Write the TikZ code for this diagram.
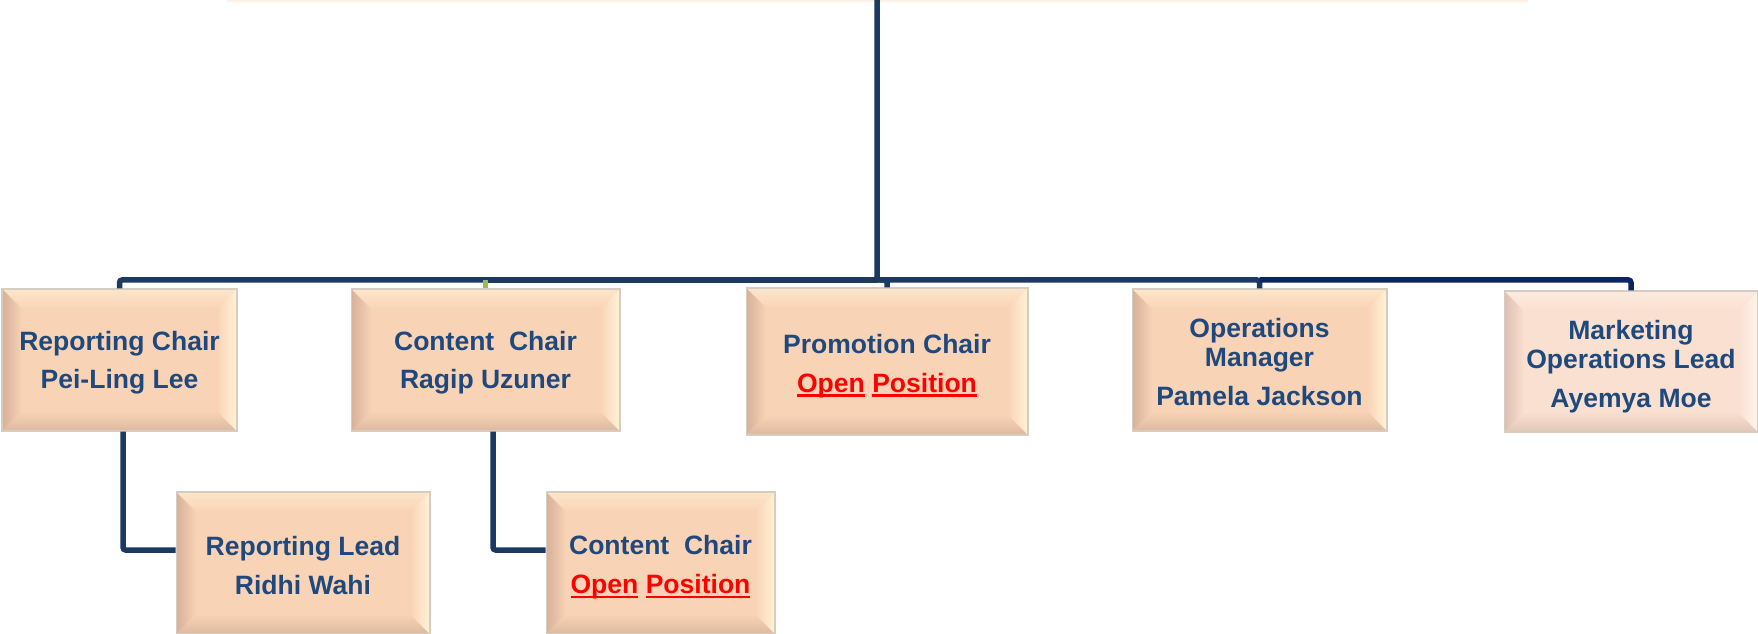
\documentclass[tikz,border=0pt]{standalone}
\usepackage{fontspec}
\setmainfont{Liberation Sans}
\usepackage{xcolor}
\usetikzlibrary{positioning,calc}

\definecolor{chartblue}{HTML}{1F497D}
\definecolor{linkblue}{HTML}{1C3961}
\definecolor{linknavy}{HTML}{0B2462}
\definecolor{linkgreen}{HTML}{9BBB59}
\definecolor{boxfill}{HTML}{F9D3B6}
\definecolor{bevtop}{HTML}{FDE6CA}
\definecolor{bevright}{HTML}{FFF3D6}
\definecolor{bevleft}{HTML}{D6B098}
\definecolor{bevbottom}{HTML}{DCBA9F}
\definecolor{boxedge}{HTML}{D5CCC2}
\definecolor{palefill}{HTML}{F9E0D1}
\definecolor{paletop}{HTML}{FCEBE0}
\definecolor{paleright}{HTML}{FFF4EC}
\definecolor{paleleft}{HTML}{DCBFB0}
\definecolor{palebottom}{HTML}{E2C7B8}
\definecolor{topedge}{HTML}{FCF1E2}
\definecolor{openred}{HTML}{FF0000}

\newcommand{\bevw}{0.4cm}
\newcommand{\openul}[1]{{\setbox0=\hbox{#1}\rlap{\rule[-2.6pt]{\wd0}{1.3pt}}\box0}}

\begin{document}
\begin{tikzpicture}[
    x=0.02cm, y=-0.02cm,
    font=\fontsize{15.1}{16.6}\selectfont\bfseries,
    link/.style={draw=linkblue, line width=0.11cm, rounded corners=1.5pt},
    rolebox/.style={
		rectangle,
		draw=boxedge,
		line width=0.6pt,
		fill=boxfill,
		text=chartblue,
		align=center,
		inner sep=0pt,
		minimum height=2.84cm,
		path picture={
		  \path (path picture bounding box.south west) coordinate (sw)
		        (path picture bounding box.north east) coordinate (ne)
		        (sw|-ne) coordinate (nw)
		        (ne|-sw) coordinate (se);
		  \shade[top color=bevtop, bottom color=boxfill]
		    (nw) -- (ne) -- ([shift={(-\bevw,-\bevw)}]ne) -- ([shift={(\bevw,-\bevw)}]nw) -- cycle;
		  \shade[top color=boxfill, bottom color=bevbottom]
		    (sw) -- (se) -- ([shift={(-\bevw,\bevw)}]se) -- ([shift={(\bevw,\bevw)}]sw) -- cycle;
		  \shade[left color=bevleft, right color=boxfill]
		    (sw) -- (nw) -- ([shift={(\bevw,-\bevw)}]nw) -- ([shift={(\bevw,\bevw)}]sw) -- cycle;
		  \shade[left color=boxfill, right color=bevright]
		    (se) -- (ne) -- ([shift={(-\bevw,-\bevw)}]ne) -- ([shift={(-\bevw,\bevw)}]se) -- cycle;
		}
	},
	palebox/.style={
		/utils/exec={\colorlet{boxfill}{palefill}\colorlet{bevtop}{paletop}%
		  \colorlet{bevright}{paleright}\colorlet{bevleft}{paleleft}%
		  \colorlet{bevbottom}{palebottom}},
		fill=palefill
	}
  ]
  \useasboundingbox (0,0) rectangle (1758,634);

  % the edge of the box above, cut off by the page
  \fill[topedge] (227,0) rectangle (1528,2.5);
  \coordinate (head) at (877,0);
  \coordinate (bus) at (877,280);

  % first row (text sits a little low in each box)
  \node [rolebox, minimum width=4.70cm] (repchair) at (119.5,360)
    {\rule{0pt}{14pt}Reporting Chair\\[5.5pt]Pei-Ling Lee};
  \node [rolebox, minimum width=5.38cm] (contchair) at (485.5,360)
    {\rule{0pt}{14pt}Content\ \ Chair\\[5.5pt]Ragip Uzuner};
  \node [rolebox, minimum width=5.64cm, minimum height=2.94cm] (promchair) at (887,361.5)
    {\rule{0pt}{16pt}Promotion Chair\\[5.5pt]\textcolor{openred}{\openul{Open} \openul{Position}}};
  \node [rolebox, minimum width=5.10cm] (opsmgr) at (1259.5,360)
    {\rule{0pt}{13pt}Operations\\Manager\\[5.5pt]Pamela Jackson};
  \node [rolebox, palebox, minimum width=5.08cm, minimum height=2.82cm] (mktlead) at (1631,361.5)
    {\rule{0pt}{16.5pt}Marketing\\Operations Lead\\[5.5pt]Ayemya Moe};

  % second row
  \node [rolebox, minimum width=5.08cm] (replead) at (303,563)
    {\rule{0pt}{13.5pt}Reporting Lead\\[5.5pt]Ridhi Wahi};
  \node [rolebox, minimum width=4.58cm] (contopen) at (660.5,563)
    {\rule{0pt}{15.5pt}Content\ \ Chair\\[5.5pt]\textcolor{openred}{\openul{Open} \openul{Position}}};

  % connectors
  \draw [link] (head) -- (bus) -| (repchair.north);
  \draw [link] (bus) -- (contchair.north|-bus);
  \draw [link, draw=linkgreen] (contchair.north|-bus) -- (contchair.north);
  \draw [link] (bus) -| (promchair.north);
  \draw [link] (bus) -| (opsmgr.north);
  \draw [link, draw=linknavy] (opsmgr.north|-bus) -| (mktlead.north);
  \draw [link] ([xshift=0.07cm]repchair.south) |- ([yshift=0.26cm]replead.west);
  \draw [link] ([xshift=0.15cm]contchair.south) |- ([yshift=0.26cm]contopen.west);

\end{tikzpicture}
\end{document}
